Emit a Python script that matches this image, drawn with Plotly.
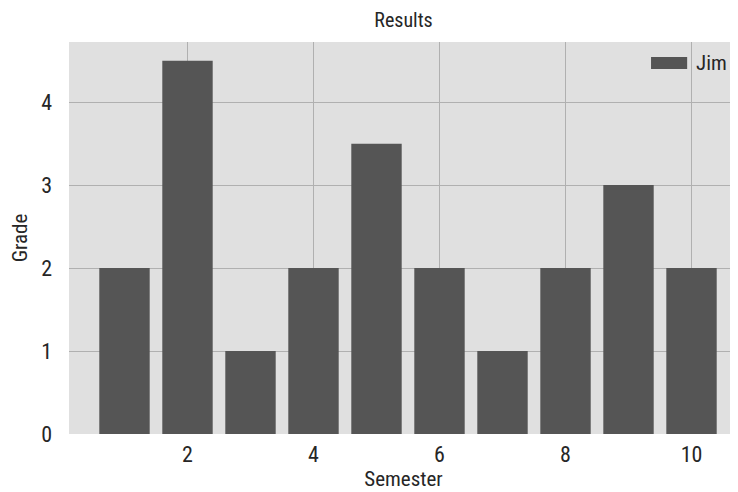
import plotly.graph_objects as go

semesters = [1, 2, 3, 4, 5, 6, 7, 8, 9, 10]
grades_jim = [2, 4.5, 1, 2, 3.5, 2, 1, 2, 3, 2]
series_name = "Jim"
x_ticks = [2, 4, 6, 8, 10]
y_ticks = [0, 1, 2, 3, 4]

FONT = "Roboto Condensed, Liberation Sans Narrow, Roboto, sans-serif"
BAR = "#555555"
TXT = "#262626"

# page body has an 8px margin; size the figure so the plot lands where the reference has it
W, H = 730, 484
L, R, T, B = 61, 0, 34, 58

fig = go.Figure()
fig.add_trace(go.Bar(
    x=semesters, y=grades_jim, name=series_name, width=0.8,
    marker=dict(color=BAR, line=dict(width=0)), showlegend=False,
))

# legend drawn as a wide patch + label (matplotlib style)
fig.add_shape(type="rect", xref="paper", yref="paper",
              x0=0.870, x1=0.924, y0=0.931, y1=0.962,
              fillcolor=BAR, line=dict(width=0))
fig.add_annotation(text=series_name, xref="paper", yref="paper",
                   x=0.934, y=0.946, xanchor="left", yanchor="middle",
                   showarrow=False, font=dict(size=21, color=TXT))

fig.update_layout(
    width=W, height=H,
    margin=dict(l=L, r=R, t=T, b=B),
    paper_bgcolor="white",
    plot_bgcolor="#E0E0E0",
    font=dict(family=FONT, size=22, color=TXT),
    title=dict(text="Results", x=0.5, xref="paper", xanchor="center",
               y=1 - 12 / H, yanchor="middle", font=dict(size=20)),
    bargap=0.2,
)
fig.update_xaxes(
    range=[0.119, 10.738], tickvals=x_ticks, showgrid=True,
    gridcolor="#B0B0B0", gridwidth=1.2, zeroline=False, showline=False,
    ticks="", ticklabelstandoff=5,
    title=dict(text="Semester", font=dict(size=21), standoff=2),
)
fig.update_yaxes(
    range=[0, 4.725], tickvals=y_ticks, showgrid=True,
    gridcolor="#B0B0B0", gridwidth=1.2, zeroline=False, showline=False,
    ticks="", ticklabelstandoff=16,
    title=dict(text="Grade", font=dict(size=21), standoff=14),
)

fig.write_html("out.html")
